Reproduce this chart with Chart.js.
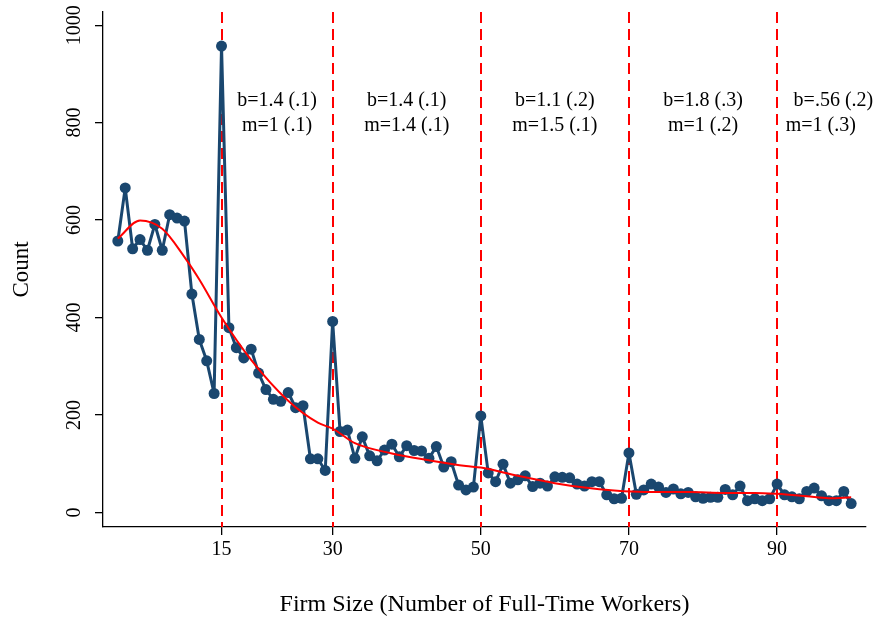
<!DOCTYPE html>
<html><head><meta charset="utf-8">
<script src="https://cdn.jsdelivr.net/npm/chart.js@4/dist/chart.umd.min.js"></script>
<style>html,body{margin:0;padding:0;background:#fff;} #wrap{width:883px;height:620px;}</style>
</head><body><div id="wrap"><canvas id="c" width="883" height="620"></canvas></div>
<script>
// ---- data ----
const firmSize = [1,2,3,4,5,6,7,8,9,10,11,12,13,14,15,16,17,18,19,20,21,22,23,24,25,26,27,28,29,30,31,32,33,34,35,36,37,38,39,40,41,42,43,44,45,46,47,48,49,50,51,52,53,54,55,56,57,58,59,60,61,62,63,64,65,66,67,68,69,70,71,72,73,74,75,76,77,78,79,80,81,82,83,84,85,86,87,88,89,90,91,92,93,94,95,96,97,98,99,100];
const counts = [557,666,541,560,538,591,538,611,604,598,448,355,311,244,957,379,338,317,335,286,252,232,228,246,215,219,110,110,86,392,166,169,111,155,116,106,128,140,114,137,127,126,111,135,93,104,56,46,52,198,81,63,99,60,67,75,53,60,54,73,72,71,58,54,63,63,36,28,29,122,37,46,58,52,41,48,38,41,32,29,31,31,47,36,54,24,28,24,28,58,36,32,28,43,50,34,24,24,43,18];
const fitSize = [1,4,7,10,12,15,19,24,28,30,33,38,43,48,50,55,60,64,68,72,78,83,87,90,94,97,100];
const fitCount = [562,599,582,524,478,400,313,229,184,172,142,121,107,95,92,75,60,51,45,42,42,40,40,38,33,29,31];
const xTickValues = [15,30,50,70,90];
const yTickValues = [0,200,400,600,800,1000];
const cutoffs = [15,30,50,70,90];
const noteLine1 = ["b=1.4 (.1)","b=1.4 (.1)","b=1.1 (.2)","b=1.8 (.3)","b=.56 (.2)"];
const noteLine2 = ["m=1 (.1)","m=1.4 (.1)","m=1.5 (.1)","m=1 (.2)","m=1 (.3)"];

// ---- placement / style ----
const notePos1 = [22.5, 40, 60, 80, 97.6];
const notePos2 = [22.5, 40, 60, 80, 95.9];
const noteY1 = 845, noteY2 = 793;
const NAVY = '#1a476f';
const FONT = "'Liberation Serif', 'Times New Roman', serif";

const pointsData = firmSize.map((x, i) => ({x: x, y: counts[i]}));
const fitData = fitSize.map((x, i) => ({x: x, y: fitCount[i]}));

const cutoffPlugin = {
  id: 'cutoffs',
  beforeDatasetsDraw(chart) {
    const {ctx, chartArea, scales} = chart;
    ctx.save();
    ctx.strokeStyle = '#ff0000';
    ctx.lineWidth = 2;
    ctx.setLineDash([11, 6]);
    cutoffs.forEach(v => {
      const px = Math.round(scales.x.getPixelForValue(v));
      ctx.beginPath();
      ctx.moveTo(px, chartArea.top);
      ctx.lineTo(px, chartArea.bottom);
      ctx.stroke();
    });
    ctx.restore();
  },
  afterDatasetsDraw(chart) {
    const {ctx, scales} = chart;
    ctx.save();
    ctx.fillStyle = '#000';
    ctx.font = "20px " + FONT;
    ctx.textAlign = 'center';
    ctx.textBaseline = 'middle';
    noteLine1.forEach((t, i) => {
      ctx.fillText(t, scales.x.getPixelForValue(notePos1[i]), scales.y.getPixelForValue(noteY1));
      ctx.fillText(noteLine2[i], scales.x.getPixelForValue(notePos2[i]), scales.y.getPixelForValue(noteY2));
    });
    ctx.restore();
  }
};

new Chart(document.getElementById('c'), {
  type: 'scatter',
  data: {
    datasets: [
      {
        label: 'Fit',
        data: fitData,
        showLine: true,
        borderColor: '#ff0000',
        borderWidth: 2,
        pointRadius: 0,
        cubicInterpolationMode: 'monotone',
        borderJoinStyle: 'round',
        order: 0
      },
      {
        label: 'Count',
        data: pointsData,
        showLine: true,
        borderColor: NAVY,
        borderWidth: 3,
        borderJoinStyle: 'round',
        pointRadius: 5.5,
        pointBackgroundColor: NAVY,
        pointBorderWidth: 0,
        tension: 0,
        order: 1
      }
    ]
  },
  options: {
    responsive: false,
    devicePixelRatio: 1,
    animation: false,
    layout: {padding: {top: 12, right: 17, left: 0, bottom: 0}},
    plugins: {legend: {display: false}, tooltip: {enabled: false}},
    scales: {
      x: {
        type: 'linear',
        min: -1, max: 102,
        afterBuildTicks: s => { s.ticks = xTickValues.map(v => ({value: v})); },
        afterFit: s => { s.height = 93; },
        grid: {drawOnChartArea: false, drawTicks: true, tickLength: 8, color: '#000', lineWidth: 1.3},
        border: {display: true, color: '#000', width: 1.3},
        ticks: {color: '#000', padding: 3, font: {family: FONT, size: 20}, maxRotation: 0, autoSkip: false,
                callback: v => String(v)},
        title: {display: true, text: 'Firm Size (Number of Full-Time Workers)', color: '#000',
                font: {family: FONT, size: 24}, padding: {top: 0, bottom: 1}}
      },
      y: {
        type: 'linear',
        min: -30, max: 1027,
        afterBuildTicks: s => { s.ticks = yTickValues.map(v => ({value: v})); },
        afterFit: s => { s.width = 103; },
        grid: {drawOnChartArea: false, drawTicks: true, tickLength: 8, color: '#000', lineWidth: 1.3},
        border: {display: true, color: '#000', width: 1.3},
        ticks: {color: '#000', padding: 0, minRotation: 90, maxRotation: 90, crossAlign: 'center',
                font: {family: FONT, size: 20}, autoSkip: false, callback: v => String(v)},
        title: {display: true, text: 'Count', color: '#000',
                font: {family: FONT, size: 23}, padding: {top: 8, bottom: 0}}
      }
    }
  },
  plugins: [cutoffPlugin]
});
</script>
</body></html>
